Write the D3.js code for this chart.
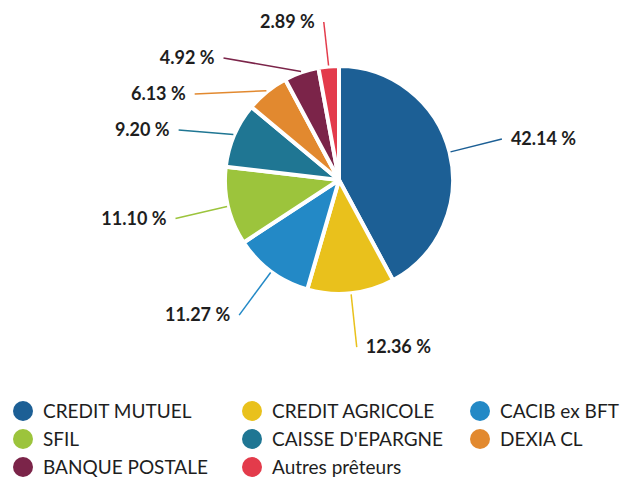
<!DOCTYPE html>
<html>
<head>
<meta charset="utf-8">
<script src="https://cdn.jsdelivr.net/npm/d3@7"></script>
<style>
  body { margin: 0; background: #fff; }
  svg { display: block; font-family: Lato, "Open Sans", sans-serif; }
</style>
</head>
<body>
<svg id="chart" width="620" height="479"></svg>
<script>
// lenders and their share of the debt (%)
const lenders = ["CREDIT MUTUEL", "CREDIT AGRICOLE", "CACIB ex BFT", "SFIL",
    "CAISSE D'EPARGNE", "DEXIA CL", "BANQUE POSTALE", "Autres prêteurs"];
const shares = [42.14, 12.36, 11.27, 11.10, 9.20, 6.13, 4.92, 2.89];
const colours = ["#1c5f95", "#e9c11c", "#2389c6", "#9cc43c",
    "#1f7693", "#e2892f", "#7b2449", "#e33b4b"];

const cx = 339;
const cy = 180;
const radius = 114;

const svg = d3.select("#chart");

const colourScale = d3.scaleOrdinal().domain(lenders).range(colours);

const pie = d3.pie().sort(null).value((d) => d.value);
const data = lenders.map((name, i) => ({ name, value: shares[i] }));
const arcs = pie(data);

const arc = d3.arc().innerRadius(0).outerRadius(radius);

const g = svg.append("g").attr("transform", `translate(${cx},${cy})`);

g.selectAll("path")
    .data(arcs)
    .join("path")
    .attr("d", arc)
    .attr("fill", (d) => colourScale(d.data.name))
    .attr("stroke", "#fff")
    .attr("stroke-width", 4)
    .attr("stroke-linejoin", "round");

// label placement: natural spot on a circle, then push apart vertically
const labelR = radius + 54;
const minGap = 36;
const topY = 22 - cy;
const mid = (d) => (d.startAngle + d.endAngle) / 2;

arcs.forEach((d) => {
    const a = mid(d);
    d.right = a < Math.PI;
    d.sx = (radius + 1) * Math.sin(a);
    d.sy = -(radius + 1) * Math.cos(a);
    d.lx = labelR * Math.sin(a);
    d.ly = -labelR * Math.cos(a);
    d.ny = d.ly;
});

[true, false].forEach((side) => {
    const group = arcs.filter((d) => d.right === side).sort((a, b) => a.ly - b.ly);
    let prev = topY - minGap;
    group.forEach((d) => {
        d.ly = Math.max(d.ly, prev + minGap);
        prev = d.ly;
        // moved labels slide along the label circle
        if (d.ly - d.ny > 15) {
            const dx = Math.sqrt(Math.max(labelR * labelR - d.ly * d.ly, 0));
            d.lx = side ? dx : -dx;
        }
    });
});

g.selectAll("line.leader")
    .data(arcs)
    .join("line")
    .attr("class", "leader")
    .attr("x1", (d) => d.sx)
    .attr("y1", (d) => d.sy)
    .attr("x2", (d) => d.lx)
    .attr("y2", (d) => d.ly)
    .attr("stroke", (d) => colourScale(d.data.name))
    .attr("stroke-width", 1.5);

g.selectAll("text.pct")
    .data(arcs)
    .join("text")
    .attr("class", "pct")
    .attr("x", (d) => d.lx + (d.right ? 9 : -9))
    .attr("y", (d) => d.ly)
    .attr("dy", "0.35em")
    .attr("text-anchor", (d) => (d.right ? "start" : "end"))
    .attr("font-size", 18)
    .attr("font-weight", 700)
    .attr("fill", "#1e1e1e")
    .text((d) => d.data.value.toFixed(2) + " %");

// legend, 3 columns
const colX = d3.scaleOrdinal().domain([0, 1, 2]).range([23, 252, 480]);
const rowY = d3.scaleLinear().domain([0, 1]).range([411, 439]);

const legend = svg.append("g")
    .selectAll("g")
    .data(lenders)
    .join("g")
    .attr("transform", (d, i) => `translate(${colX(i % 3)},${rowY(Math.floor(i / 3))})`);

legend.append("circle")
    .attr("r", 10)
    .attr("fill", (d) => colourScale(d));

legend.append("text")
    .attr("x", 20)
    .attr("dy", "0.36em")
    .attr("font-size", 19)
    .attr("fill", "#1e1e1e")
    .text((d) => d);
</script>
</body>
</html>
